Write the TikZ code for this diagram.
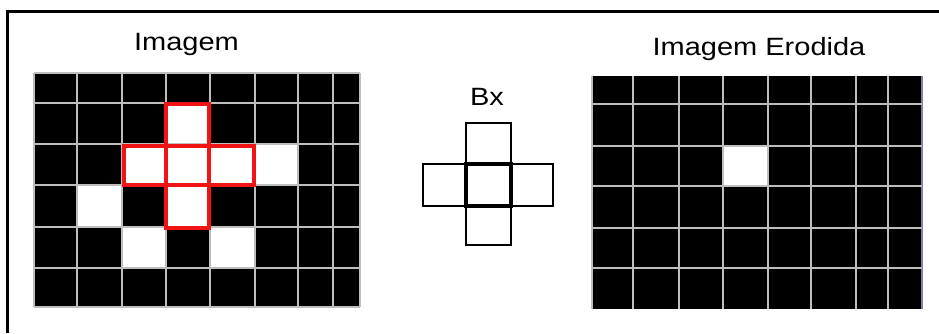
\documentclass[tikz,border=0pt]{standalone}
\usepackage{fontspec}
\usepackage{graphicx}
\setmainfont{Liberation Sans}
\definecolor{gridgray}{RGB}{190,190,190}
\definecolor{edgeblue}{RGB}{130,130,160}
\definecolor{crossred}{RGB}{240,20,20}
\tikzset{
  gridline/.style={draw=gridgray, line width=2pt},
  whitecell/.style={fill=white},
  redsq/.style={draw=crossred, line width=3.4pt},
  bxsq/.style={draw=black, line width=1.4pt},
  bxcenter/.style={draw=black, line width=4.6pt},
  title/.style={anchor=base, inner sep=0pt, font=\fontsize{25}{30}\selectfont},
  frameline/.style={draw=black, line width=3pt}
}
\begin{document}
\begin{tikzpicture}[x=1pt,y=-1pt]
\useasboundingbox (0,0) rectangle (939,333);
\fill[white] (0,0) rectangle (939,333);
% frame
\draw[frameline] (939,11) -- (7,11) -- (7,333);

% ---------------- left grid ----------------
\fill[black] (34,73) rectangle (360,307);
% white cells
\fill[whitecell] (166,103) rectangle (210,144);
\fill[whitecell] (122,144) rectangle (298,185);
\fill[whitecell] (77,185) rectangle (122,227);
\fill[whitecell] (166,185) rectangle (210,227);
\fill[whitecell] (122,227) rectangle (166,268);
\fill[whitecell] (210,227) rectangle (255,268);
\foreach \x in {34,77,122,166,210,255,298,333,360}
  \draw[gridline] (\x,73) -- (\x,307);
\foreach \y in {73,103,144,185,227,268,307}
  \draw[gridline] (34,\y) -- (360,\y);
% red cross
\draw[redsq] (124,146) rectangle (166,185);
\draw[redsq] (209,146) rectangle (254,185);
\draw[redsq] (166,104) rectangle (209,146);
\draw[redsq] (166,185) rectangle (209,228);
\draw[redsq] (166,146) rectangle (209,185);

\node[title] (img) at (186.5,50) {\scalebox{1.16}[1]{Imagem}};

% ---------------- structuring element ----------------
\node[title] (bx) at (487,105) {\scalebox{1.16}[1]{Bx}};
\draw[bxsq] (466,123) rectangle (511,164);
\draw[bxsq] (423,164) rectangle (466,206);
\draw[bxsq] (511,164) rectangle (553,206);
\draw[bxsq] (466,206) rectangle (511,245);
\draw[bxcenter] (466,164) rectangle (511,206);

% ---------------- right grid ----------------
\fill[black] (592,76) rectangle (922,309);
\fill[whitecell] (723,146) rectangle (768,186);
\foreach \x in {592,633,679,723,768,811,856,888}
  \draw[gridline] (\x,76) -- (\x,309);
\draw[draw=edgeblue, line width=2pt] (922,76) -- (922,309);
\foreach \y in {104,146,186,228,268}
  \draw[gridline] (592,\y) -- (922,\y);

\node[title] (ero) at (759,55) {\scalebox{1.16}[1]{Imagem Erodida}};
\end{tikzpicture}
\end{document}
